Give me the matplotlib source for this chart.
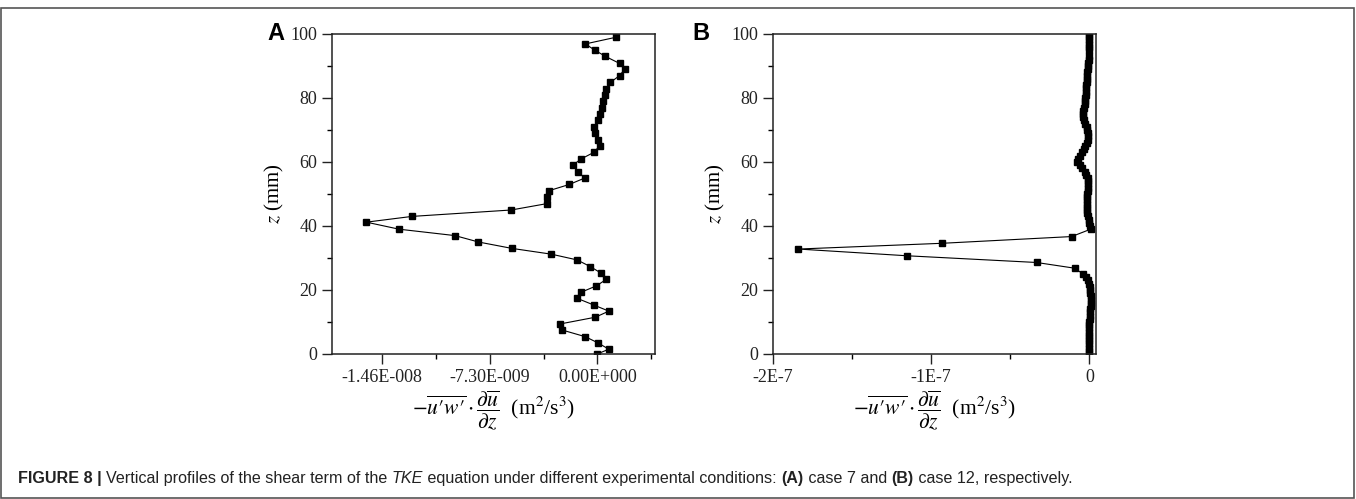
import numpy as np
import matplotlib
matplotlib.use('Agg')
import matplotlib.pyplot as plt
from matplotlib.patches import Rectangle
from matplotlib.ticker import FixedLocator

plt.rcParams['font.family'] = ['Liberation Serif', 'DejaVu Serif']
plt.rcParams['mathtext.fontset'] = 'stix'

# panel A (case 7): z in mm, shear term in units of 1e-9 m2/s3
z_a = [99, 96.9, 95, 93, 90.8, 89, 87, 84.9, 82.8, 80.9, 79, 77, 75, 73, 71, 69, 67, 65,
       63, 61, 59, 57, 55, 53, 51, 49, 47, 45, 43, 41.2, 39, 37, 35, 33,
       31.2, 29.4, 27.3, 25.2, 23.3, 21.3, 19.3, 17.4, 15.3, 13.4, 11.5, 9.4, 7.5, 5.4, 3.5, 1.5, 0]
shear_a = [1.27, -0.82, -0.2, 0.54, 1.5, 1.84, 1.5, 0.88, 0.61, 0.5, 0.39, 0.32, 0.2, 0.05, -0.25, -0.18, 0.02, 0.14,
           -0.25, -1.09, -1.68, -1.34, -0.86, -1.9, -3.31, -3.42, -3.42, -5.85, -12.57, -15.67, -13.45, -9.66, -8.07, -5.8,
           -3.13, -1.38, -0.48, 0.27, 0.59, -0.07, -1.11, -1.38, -0.25, 0.77, -0.14, -2.52, -2.4, -0.82, 0.02, 0.77, -0.02]

# panel B (case 12): z in mm, shear term in units of 1e-7 m2/s3 (nan = gap in profile)
z_b = [100, 99, 98, 97, 96, 95, 94,
       93, 92, 91, 90, 89, 88, 87, 86, 85, 84, 83, 82, 81, 80, 79, 78, 77, 76, 75, 74, 73, 72, 71, 70,
       69, 68, 67, 66, 65, 64, 63, 62, 61, 60, 59, 58, 57, 56, 55, 54, 53, 52, 51, 50, 49, 48, 47, 46,
       45, 44, 43, 42, 41, 40, 39,
       36.7, 34.6, 32.8, 30.7, 28.6, 26.8, 24.9,
       24, 23, 22, 21, 20, 19, 18, 17, 16, 15, 14, 13, 12, 11, 10, 9, 8, 7, 6, 5, 4, 3, 2, 1, 0]
shear_b = [-0.001, -0.001, -0.001, -0.001, -0.001, -0.001, np.nan,
           -0.002, -0.004, -0.006, -0.008, -0.010, -0.012, -0.014, -0.016, -0.018, -0.020, -0.021, -0.023, -0.024,
           -0.026, -0.027, -0.030, -0.035, -0.040, -0.042, -0.040, -0.033, -0.025, -0.018, -0.013,
           -0.008, -0.006, -0.010, -0.018, -0.027, -0.035, -0.045, -0.058, -0.072, -0.076, -0.062, -0.046, -0.030,
           -0.020, -0.010, -0.007, -0.006, -0.008, -0.010, -0.012, -0.013, -0.014, -0.014, -0.014,
           -0.013, -0.012, -0.008, -0.004, 0.000, 0.004, 0.008,
           -0.112, -0.93, -1.84, -1.154, -0.334, -0.091, -0.038,
           -0.020, -0.006, 0.000, 0.003, 0.005, 0.007, 0.008, 0.009, 0.009, 0.008, 0.006, 0.004, 0.002, 0.001,
           0.0, 0.0, 0.0, 0.0, 0.0, -0.001, -0.001, -0.001, -0.001, -0.001, -0.001]

ticks_a = [-1.46e-8, -7.30e-9, 0.0]
ticklabels_a = ['-1.46E-008', '-7.30E-009', '0.00E+000']
ticks_b = [-2e-7, -1e-7, 0.0]
ticklabels_b = ['-2E-7', '-1E-7', '0']

W, H = 1356, 499
fig = plt.figure(figsize=(W / 100, H / 100), dpi=100)

xlabel = r"$-\overline{u{\prime}w{\prime}}\cdot\dfrac{\partial\overline{u}}{\partial z}$  (m$^2$/s$^3$)"


def setup(ax, ticks, labels, minor):
    ax.set_ylim(0, 100)
    ax.set_yticks([0, 20, 40, 60, 80, 100])
    ax.yaxis.set_minor_locator(FixedLocator([10, 30, 50, 70, 90]))
    ax.set_xticks(ticks)
    ax.set_xticklabels(labels)
    ax.xaxis.set_minor_locator(FixedLocator(minor))
    ax.tick_params(which='major', direction='out', length=7, width=1.0, labelsize=13, colors='#222222')
    ax.tick_params(which='minor', direction='out', length=3.5, width=1.0)
    for s in ax.spines.values():
        s.set_linewidth(1.1)
        s.set_color('#222222')
    ax.set_ylabel(r'$z$ (mm)', fontsize=15, labelpad=3)
    ax.set_xlabel(xlabel, fontsize=15.5, labelpad=2)


ax1 = fig.add_axes([332 / W, 1 - 354 / H, 323 / W, 320 / H])
ax1.plot(np.array(shear_a) * 1e-9, z_a, color='black', lw=0.8, marker='s', ms=4.8)
ax1.set_xlim(-1.80e-8, 3.9e-9)
setup(ax1, ticks_a, ticklabels_a, [-1.095e-8, -3.65e-9, 3.65e-9])

ax2 = fig.add_axes([773 / W, 1 - 354 / H, 323 / W, 320 / H])
ax2.plot(np.array(shear_b) * 1e-7, z_b, color='black', lw=0.8, marker='s', ms=4.8)
ax2.set_xlim(-2e-7, 4.2e-9)
setup(ax2, ticks_b, ticklabels_b, [-1.5e-7, -0.5e-7])

fig.text(267 / W, 1 - 33 / H, 'A', fontsize=17, fontweight='bold', family='Liberation Sans', va='center')
fig.text(692 / W, 1 - 33 / H, 'B', fontsize=17, fontweight='bold', family='Liberation Sans', va='center')

# frame around figure
fig.patches.append(Rectangle((1 / W, 1 / H), (W - 3) / W, (H - 9) / H, transform=fig.transFigure,
                             fill=False, edgecolor='#555555', lw=1.2))

# caption built from styled pieces
pieces = [('FIGURE 8 | ', 'bold', 'normal'),
          ('Vertical profiles of the shear term of the ', 'normal', 'normal'),
          ('TKE', 'normal', 'italic'),
          (' equation under different experimental conditions: ', 'normal', 'normal'),
          ('(A)', 'bold', 'normal'),
          (' case 7 and ', 'normal', 'normal'),
          ('(B)', 'bold', 'normal'),
          (' case 12, respectively.', 'normal', 'normal')]
fig.canvas.draw()
r = fig.canvas.get_renderer()
x = 18
for s, w, st in pieces:
    t = fig.text(x / W, 1 - 483 / H, s, fontsize=11.6, fontweight=w, fontstyle=st,
                 family='Liberation Sans', va='baseline', color='#222222')
    bb = t.get_window_extent(renderer=r)
    x += bb.width

fig.savefig('out.png', dpi=100)
